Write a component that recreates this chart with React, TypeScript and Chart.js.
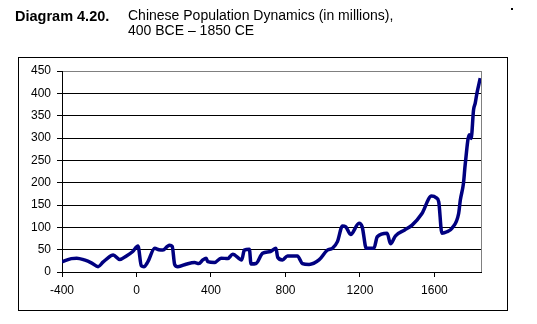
import React, { useEffect, useRef } from "react";
import { Chart, registerables } from "chart.js";

Chart.register(...registerables);

// Years (BCE negative) and population in millions
const years: number[] = [
  -400, -350, -321, -280, -240, -206, -180, -161, -125, -90, -54, -20, 8, 26, 40, 60, 98, 120, 142, 165,
  178, 192, 205, 222, 270, 312, 335, 356, 374, 383, 419, 454, 490, 517, 565, 579, 606, 615, 642, 677,
  720, 749, 758, 784, 811, 864, 891, 927, 980, 1025, 1052, 1079, 1106, 1124, 1150, 1195, 1212, 1234,
  1275, 1293, 1346, 1364, 1391, 1440, 1480, 1533, 1584, 1610, 1623, 1640, 1667, 1694, 1730, 1739,
  1756, 1765, 1787, 1797, 1810, 1819, 1828, 1846,
];
const population: number[] = [
  23, 30, 31, 27, 20, 12, 22, 29, 38, 28, 36, 46, 58, 14, 12, 22, 53, 50, 49, 57,
  60, 57, 17, 12, 18, 21, 19, 27, 31, 23, 21, 31, 30, 40, 27, 49, 51, 18, 19, 42,
  46, 53, 33, 27, 36, 36, 19, 17, 27, 49, 53, 68, 103, 101, 84, 109, 101, 53,
  53, 79, 87, 63, 81, 94, 105, 131, 170, 166, 157, 87, 90, 98, 131, 161,
  199, 240, 307, 299, 363, 378, 400, 434,
];
const xTickValues: number[] = [-400, 0, 400, 800, 1200, 1600];
const yTickStep = 50;
const xMin = -400;
const xMax = 1850;
const yMin = 0;
const yMax = 450;

const titleBold = "Diagram 4.20.";
const titleLine1 = "Chinese Population Dynamics (in millions),";
const titleLine2 = "400 BCE \u2013 1850 CE";

const rightBorder = {
  id: "rightBorder",
  beforeDatasetsDraw(chart: any) {
    const { ctx, chartArea } = chart;
    ctx.save();
    ctx.strokeStyle = "#808080";
    ctx.lineWidth = 1;
    ctx.beginPath();
    const x = Math.round(chartArea.right) + 0.5;
    ctx.moveTo(x, chartArea.top);
    ctx.lineTo(x, chartArea.bottom);
    ctx.stroke();
    ctx.restore();
  },
};

export default function App() {
  const ref = useRef<HTMLCanvasElement>(null);
  useEffect(() => {
    if (!ref.current) return;
    const font = { family: "'Liberation Sans', Arial, sans-serif", size: 12 };
    const chart = new Chart(ref.current, {
      type: "line",
      data: {
        datasets: [
          {
            data: years.map((y, i) => ({ x: y, y: population[i] })),
            borderColor: "#000080",
            borderWidth: 3.5,
            pointRadius: 0,
            tension: 0.3,
            cubicInterpolationMode: "monotone",
            fill: false,
          },
        ],
      },
      options: {
        animation: false,
        responsive: false,
        maintainAspectRatio: false,
        layout: { padding: { left: 22, top: 71, right: 56, bottom: 22 } },
        plugins: { legend: { display: false }, tooltip: { enabled: false }, title: { display: false } },
        scales: {
          x: {
            type: "linear",
            min: xMin,
            max: xMax,
            afterBuildTicks: (axis: any) => {
              axis.ticks = xTickValues.map((v) => ({ value: v }));
            },
            afterFit: (axis: any) => {
              axis.height = 30;
            },
            ticks: {
              color: "#000",
              font,
              padding: 6,
              maxRotation: 0,
              autoSkip: false,
              callback: (v: any) => String(v),
            },
            grid: { drawOnChartArea: false, color: "#000", tickLength: 5, tickColor: "#000" },
            border: { color: "#000", width: 1 },
          },
          y: {
            min: yMin,
            max: yMax,
            afterFit: (axis: any) => {
              axis.width = 40;
            },
            ticks: { stepSize: yTickStep, color: "#000", font, padding: 6 },
            grid: {
              color: (c: any) => (c.tick && c.tick.value === yMax ? "#808080" : "#000"),
              tickColor: "#000",
              tickLength: 5,
              lineWidth: 1,
            },
            border: { color: "#000", width: 1 },
          },
        },
      },
      plugins: [rightBorder],
    } as any);
    return () => chart.destroy();
  }, []);

  const titleFont = "'Liberation Sans', Arial, sans-serif";
  return (
    <div style={{ position: "absolute", left: 0, top: 0, width: 537, height: 324, background: "#fff" }}>
      <div
        style={{
          position: "absolute",
          left: 18,
          top: 57,
          width: 490,
          height: 254,
          boxSizing: "border-box",
          border: "1px solid #000",
        }}
      />
      <canvas ref={ref} width={537} height={324} style={{ position: "absolute", left: 0, top: 0, width: 537, height: 324 }} />
      <div style={{ position: "absolute", left: 15, top: 8, fontFamily: titleFont, fontSize: 14.5, fontWeight: "bold", lineHeight: "16px", whiteSpace: "nowrap" }}>
        {titleBold}
      </div>
      <div style={{ position: "absolute", left: 128, top: 8, fontFamily: titleFont, fontSize: 14, lineHeight: "15px", whiteSpace: "nowrap" }}>
        {titleLine1}
        <br />
        {titleLine2}
      </div>
      <div style={{ position: "absolute", left: 511, top: 8, width: 2, height: 2, background: "#000" }} />
    </div>
  );
}
